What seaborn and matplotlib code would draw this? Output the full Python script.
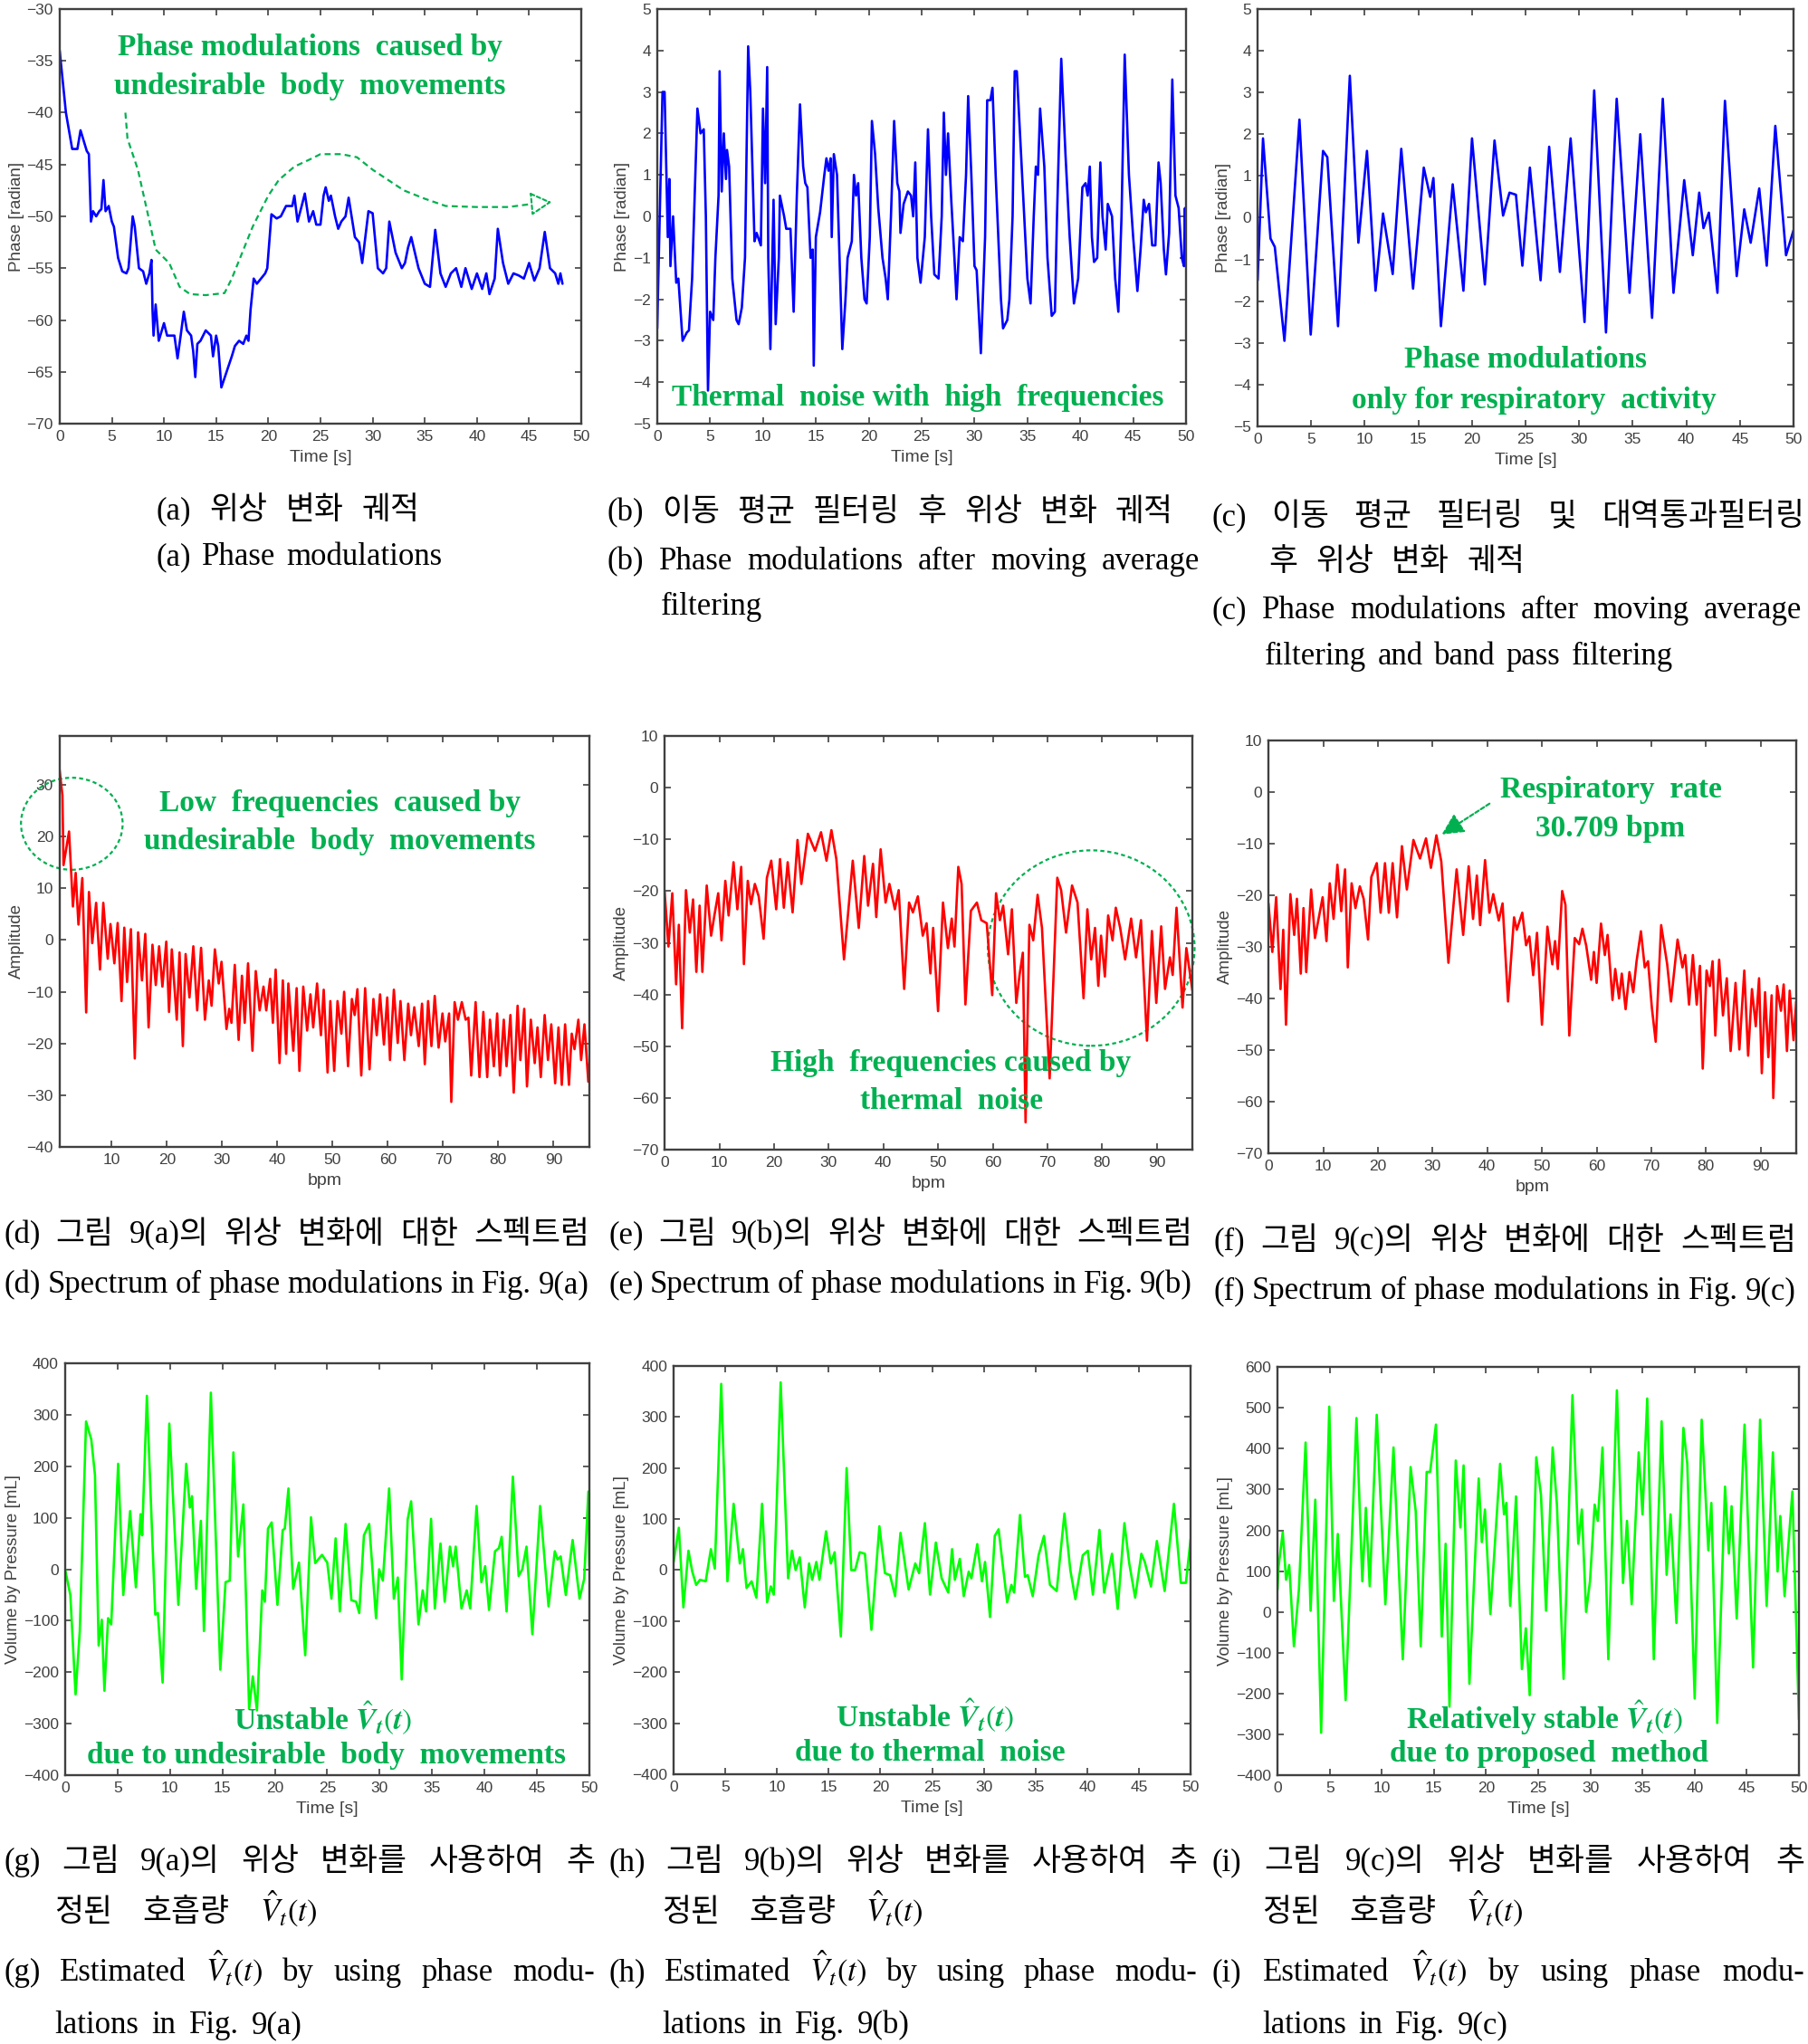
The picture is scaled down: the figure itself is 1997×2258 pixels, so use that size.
import matplotlib
matplotlib.use("Agg")
import matplotlib.pyplot as plt
from matplotlib.patches import Ellipse
import pandas as pd
import seaborn as sns

# ---- data: (x, value) pairs ---------------------------------------------
PHASE_A = [(0, -34.0), (0.6, -40.0), (1.2, -43.5), (1.7, -43.5), (2.0, -41.7), (2.6, -43.7), (2.8, -44.0),
           (3.0, -50.5), (3.2, -49.5), (3.5, -50.0), (3.8, -49.5), (4.0, -49.3), (4.2, -46.5), (4.4, -49.5),
           (4.7, -49.0), (5.0, -50.5), (5.2, -51.0), (5.6, -54.0), (6.0, -55.3), (6.4, -55.5), (6.6, -55.0),
           (7.0, -50.0), (7.2, -51.0), (7.6, -55.0), (8.0, -55.3), (8.3, -56.5), (8.6, -55.5), (8.8, -54.2),
           (8.9, -59.0), (9.0, -61.5), (9.2, -58.5), (9.5, -62.0), (9.8, -61.0), (10.0, -60.3), (10.3, -61.5),
           (11.0, -61.5), (11.3, -63.7), (11.6, -61.5), (11.9, -59.2), (12.2, -61.0), (12.6, -61.5),
           (12.8, -63.0), (13.0, -65.5), (13.2, -62.3), (13.5, -62.0), (14.0, -61.0), (14.5, -61.5),
           (14.7, -63.5), (15.0, -61.5), (15.2, -62.5), (15.5, -66.5), (16.0, -65.0), (16.5, -63.5),
           (16.8, -62.5), (17.2, -62.0), (17.6, -62.3), (17.9, -61.5), (18.1, -62.0), (18.3, -59.0),
           (18.6, -56.0), (18.9, -56.5), (19.3, -56.0), (19.7, -55.5), (19.9, -55.0), (20.3, -49.8),
           (20.8, -50.2), (21.2, -50.0), (21.7, -49.0), (22.3, -49.0), (22.5, -48.0), (22.8, -50.5),
           (23.2, -49.0), (23.5, -47.8), (23.9, -50.5), (24.3, -49.5), (24.6, -50.8), (25.0, -50.8),
           (25.3, -48.0), (25.5, -47.2), (25.8, -48.5), (26.0, -48.0), (26.4, -50.0), (26.7, -51.2),
           (27.0, -50.5), (27.4, -50.0), (27.7, -48.2), (28.3, -52.0), (28.7, -52.5), (29.0, -54.5),
           (29.3, -52.0), (29.6, -49.5), (30.0, -49.7), (30.5, -55.0), (31.0, -55.5), (31.3, -55.0),
           (31.6, -50.5), (32.2, -53.5), (32.8, -55.0), (33.1, -54.5), (33.4, -53.0), (33.7, -52.0),
           (34.0, -53.3), (34.4, -55.0), (35.0, -56.5), (35.5, -56.8), (36.0, -51.3), (36.5, -55.5),
           (37.0, -56.8), (37.5, -55.5), (38.0, -55.0), (38.5, -56.8), (38.9, -55.0), (39.5, -57.0),
           (40.0, -55.5), (40.5, -57.0), (40.9, -55.5), (41.2, -57.5), (41.7, -56.0), (42.0, -51.2),
           (42.5, -54.5), (43.0, -56.5), (43.5, -55.5), (44.0, -55.7), (44.5, -56.0), (45.0, -54.5),
           (45.5, -56.2), (46.0, -55.0), (46.5, -51.5), (47.0, -55.0), (47.5, -55.5), (47.8, -56.5),
           (48.0, -55.5), (48.2, -56.5)]

PHASE_B = [(0, -2.7), (0.5, 3.0), (0.7, 3.0), (1.0, -0.5), (1.15, 0.9), (1.25, -1.2), (1.5, 0.0), (1.8, -1.6),
           (2.0, -1.5), (2.4, -3.0), (2.8, -2.8), (3.0, -2.75), (3.3, -1.5), (3.6, 1.0), (3.8, 2.6),
           (4.1, 2.0), (4.4, 2.1), (4.6, 0.0), (4.8, -4.2), (5.0, -2.3), (5.3, -2.5), (5.5, -1.0), (5.8, 0.5),
           (5.9, 3.5), (6.1, 0.6), (6.3, 2.0), (6.5, 0.9), (6.6, 1.6), (6.8, 1.2), (7.1, -1.5), (7.5, -2.5),
           (7.7, -2.6), (8.0, -2.2), (8.3, -1.0), (8.6, 4.1), (8.8, 3.0), (9.2, -0.6), (9.4, -0.4),
           (9.8, -0.7), (10.0, 2.6), (10.2, 0.8), (10.4, 3.6), (10.5, -1.0), (10.7, -3.2), (11.0, 0.4),
           (11.2, -2.6), (11.5, -1.0), (11.6, 0.5), (12.0, 0.0), (12.2, -0.3), (12.6, -0.3), (12.9, -2.3),
           (13.2, 0.5), (13.5, 2.7), (13.8, 1.2), (14.0, 0.8), (14.2, 0.7), (14.5, -1.0), (14.7, -0.8),
           (14.8, -3.6), (15.0, -0.5), (15.4, 0.1), (15.8, 1.0), (16.0, 1.4), (16.2, 1.1), (16.4, 1.4),
           (16.5, -0.5), (16.7, 1.5), (17.0, 1.0), (17.3, -1.5), (17.5, -3.2), (17.8, -2.0), (18.0, -1.0),
           (18.4, -0.6), (18.6, 1.0), (18.8, 0.5), (19.0, 0.8), (19.3, -1.0), (19.6, -2.0), (19.8, -2.1),
           (20.1, -0.5), (20.3, 2.3), (20.6, 1.5), (20.9, 0.2), (21.3, -1.0), (21.6, -1.5), (21.8, -2.0),
           (22.1, 0.0), (22.4, 2.3), (22.7, 0.8), (22.9, 0.6), (23.0, -0.4), (23.3, 0.3), (23.7, 0.6),
           (24.0, 0.5), (24.2, 0.0), (24.4, 1.3), (24.6, -1.0), (24.9, -1.6), (25.3, -0.5), (25.6, 2.1),
           (25.9, 0.0), (26.2, -1.4), (26.6, -1.5), (26.9, 0.0), (27.1, 2.5), (27.3, 1.0), (27.5, 2.0),
           (27.8, 0.4), (28.1, -1.0), (28.3, -2.0), (28.6, -0.5), (28.9, -0.6), (29.2, 1.0), (29.4, 2.9),
           (29.7, 1.0), (30.0, -1.2), (30.2, -1.3), (30.6, -3.3), (31.0, -0.5), (31.2, 2.8), (31.5, 2.8),
           (31.7, 3.1), (32.0, 1.0), (32.5, -2.0), (32.7, -2.7), (33.1, -2.5), (33.3, -2.0), (33.6, 0.0),
           (33.8, 3.5), (34.0, 3.5), (34.5, 1.0), (35.0, -1.5), (35.3, -2.1), (35.6, 0.0), (35.8, 1.2),
           (36.0, 1.0), (36.2, 2.6), (36.6, 1.2), (36.9, -1.0), (37.3, -2.4), (37.6, -2.3), (37.8, 0.0),
           (38.2, 3.8), (38.6, 1.5), (39.0, -0.5), (39.4, -2.1), (39.8, -1.5), (40.2, 0.7), (40.5, 0.8),
           (40.7, 0.5), (40.9, 1.2), (41.1, -0.5), (41.3, -1.1), (41.6, -1.0), (41.9, 1.3), (42.1, 0.0),
           (42.4, -0.8), (42.6, 0.3), (43.0, 0.0), (43.3, -1.5), (43.6, -2.3), (43.9, 0.0), (44.2, 3.9),
           (44.6, 1.0), (45.0, -0.5), (45.4, -1.8), (45.7, -0.8), (46.0, 0.4), (46.2, 0.1), (46.5, 0.3),
           (46.8, -0.7), (47.1, -0.7), (47.4, 1.3), (47.6, 0.8), (47.9, -0.8), (48.1, -1.4), (48.4, -0.4),
           (48.7, 3.3), (49.0, 0.5), (49.3, 0.2), (49.6, -1.0), (49.8, -1.2), (49.9, 0.2), (50.0, -1.2)]

PHASE_C = [(0, -1.5), (0.5, 1.9), (1.2, -0.5), (1.6, -0.7), (2.5, -2.95), (3.9, 2.35), (4.95, -2.8),
           (6.1, 1.6), (6.5, 1.45), (7.5, -2.6), (8.6, 3.4), (9.4, -0.6), (10.2, 1.6), (11.0, -1.75),
           (11.7, 0.1), (12.6, -1.35), (13.4, 1.65), (14.5, -1.7), (15.5, 1.2), (16.1, 0.5), (16.4, 0.95),
           (17.1, -2.6), (18.2, 0.8), (19.2, -1.75), (20.0, 1.9), (21.2, -1.6), (22.1, 1.85), (22.9, 0.05),
           (23.5, 0.6), (24.1, 0.55), (24.7, -1.15), (25.4, 1.2), (26.4, -1.5), (27.2, 1.7), (28.2, -1.3),
           (29.2, 1.9), (30.5, -2.5), (31.4, 3.05), (32.5, -2.75), (33.5, 2.85), (34.7, -1.8), (35.7, 2.0),
           (36.8, -2.4), (37.8, 2.85), (38.8, -1.8), (39.8, 0.9), (40.6, -0.9), (41.2, 0.6), (41.6, -0.25),
           (42.1, 0.12), (42.9, -1.8), (43.6, 2.8), (44.7, -1.4), (45.4, 0.2), (46.0, -0.6), (46.8, 0.7),
           (47.5, -1.15), (48.3, 2.2), (49.3, -0.9), (50.0, -0.3)]

SPEC_D = [(0.5, 33.7), (1.1, 28.0), (1.3, 14.5), (2.3, 21.0), (3.0, 6.5), (3.5, 13.0), (4.0, 3.0), (4.7, 12.0),
          (5.4, -14.0), (5.9, 9.3), (6.5, -0.6), (7.2, 7.2), (7.9, -5.7), (8.5, 7.2), (9.3, -3.6), (9.8, 3.1),
          (10.5, -4.5), (11.1, 3.3), (11.8, -11.8), (12.3, 2.4), (12.8, -8.1), (13.5, 2.1), (14.2, -22.9),
          (14.8, 1.5), (15.5, -7.8), (16.1, 1.2), (16.7, -16.9), (17.4, -0.9), (18.0, -8.7), (18.6, -1.2),
          (19.2, -9.0), (19.9, -0.3), (20.4, -13.9), (20.9, -1.8), (21.8, -15.4), (22.3, -2.4), (22.9, -20.5),
          (23.4, -2.7), (24.1, -11.1), (24.8, -1.2), (25.5, -13.6), (26.2, -1.5), (26.9, -15.4), (27.6, -7.8),
          (28.1, -12.7), (28.7, -1.8), (29.4, -8.4), (29.9, -4.2), (30.8, -17.2), (31.3, -13.3), (31.7, -16.0),
          (32.3, -4.8), (33.0, -19.3), (33.6, -6.9), (34.1, -16.0), (34.7, -4.5), (35.5, -21.4), (36.1, -6.0),
          (36.8, -13.6), (37.5, -9.0), (38.0, -13.6), (38.7, -7.5), (39.2, -16.0), (39.7, -5.7), (40.4, -23.8),
          (41.0, -7.8), (41.6, -22.0), (42.0, -8.4), (42.9, -21.4), (43.5, -9.3), (44.0, -25.3), (44.7, -9.0),
          (45.4, -17.5), (46.0, -10.5), (46.5, -16.9), (47.2, -8.4), (47.9, -18.4), (48.4, -9.6), (49.1, -25.6),
          (49.6, -11.8), (50.3, -25.3), (50.9, -11.8), (51.6, -18.1), (52.1, -10.0), (52.8, -24.4), (53.5, -11.4),
          (54.0, -14.5), (54.5, -9.5), (55.2, -26.2), (55.9, -9.3), (56.7, -25.0), (57.4, -11.4), (58.0, -18.4),
          (58.6, -10.5), (59.3, -20.2), (59.9, -11.1), (60.4, -23.2), (61.1, -9.6), (61.8, -19.9), (62.3, -11.8),
          (63.0, -23.2), (63.7, -12.3), (64.2, -18.4), (64.8, -13.0), (65.6, -20.5), (66.2, -12.3), (66.7, -24.0),
          (67.3, -11.8), (67.9, -20.5), (68.5, -10.8), (69.2, -20.8), (69.9, -14.2), (70.4, -19.6), (71.1, -14.2),
          (71.5, -31.3), (72.1, -12.0), (72.7, -15.4), (73.4, -12.0), (74.1, -15.4), (74.6, -15.0), (75.1, -26.2),
          (75.9, -12.0), (76.6, -26.5), (77.3, -13.9), (78.0, -26.5), (78.5, -15.4), (79.2, -24.4), (79.8, -14.2),
          (80.3, -26.2), (81.0, -15.4), (81.5, -24.4), (82.2, -14.5), (82.8, -29.5), (83.5, -12.7), (84.0, -23.2),
          (84.7, -13.3), (85.2, -28.3), (85.9, -15.4), (86.6, -23.8), (87.1, -16.9), (87.7, -26.5), (88.4, -14.5),
          (89.0, -23.2), (89.6, -16.3), (90.3, -27.7), (90.9, -16.9), (91.5, -28.0), (92.1, -16.3), (92.8, -28.0),
          (93.3, -18.1), (93.8, -21.1), (94.5, -15.4), (95.0, -23.2), (95.6, -16.3), (96.3, -27.4), (96.8, -19.9)]

SPEC_E = [(0, -20.1), (0.7, -30.7), (1.4, -20.4), (2.1, -38.0), (2.6, -26.5), (3.2, -46.5), (3.9, -19.8),
          (4.6, -28.0), (5.2, -21.6), (5.8, -35.6), (6.4, -22.8), (6.9, -35.6), (7.7, -18.9), (8.5, -28.6),
          (9.1, -24.7), (9.8, -20.4), (10.4, -29.5), (11.1, -18.0), (11.7, -24.7), (12.6, -14.4), (13.3, -23.5),
          (14.0, -15.3), (14.5, -34.1), (15.2, -18.0), (15.8, -22.5), (16.5, -18.6), (17.2, -21.0), (18.1, -29.2),
          (18.7, -17.4), (19.5, -14.1), (20.4, -23.5), (21.1, -13.8), (21.8, -23.2), (22.5, -14.4), (23.4, -24.1),
          (24.3, -10.1), (25.0, -18.6), (26.2, -8.9), (27.5, -12.2), (28.6, -8.6), (29.6, -14.1), (30.5, -8.2),
          (31.4, -13.8), (32.8, -33.2), (34.4, -14.1), (35.5, -27.1), (36.5, -13.2), (37.2, -22.8), (38.1, -14.7),
          (38.7, -25.0), (39.5, -11.9), (40.4, -22.2), (41.1, -18.6), (42.1, -23.5), (42.8, -19.8), (43.8, -38.9),
          (44.7, -22.2), (45.4, -24.1), (46.3, -21.0), (47.2, -28.6), (47.9, -26.2), (48.6, -35.9), (49.1, -27.1),
          (50.0, -43.2), (50.9, -22.2), (51.8, -31.0), (52.5, -25.3), (53.0, -30.7), (53.7, -15.3), (54.3, -18.6),
          (55.0, -41.9), (56.0, -23.8), (57.1, -22.2), (57.9, -25.6), (58.9, -26.2), (59.9, -40.1), (60.6, -20.4),
          (61.3, -25.6), (61.9, -22.8), (62.8, -32.2), (63.5, -23.5), (64.3, -41.6), (64.9, -36.2), (65.5, -31.9),
          (66.0, -64.7), (66.7, -26.5), (67.4, -29.5), (68.2, -20.7), (69.0, -27.1), (70.4, -56.2), (71.8, -17.4),
          (72.5, -19.8), (73.4, -28.0), (74.5, -18.9), (75.5, -22.2), (76.6, -40.7), (77.3, -23.5), (78.0, -33.2),
          (78.7, -27.1), (79.3, -38.3), (79.8, -28.6), (80.5, -36.5), (81.1, -24.7), (81.9, -29.5), (82.5, -23.2),
          (83.3, -27.1), (84.2, -33.2), (85.3, -25.3), (86.2, -32.8), (87.1, -25.6), (88.2, -48.9), (89.1, -27.7),
          (89.9, -41.6), (90.8, -26.8), (91.5, -38.9), (92.4, -32.8), (92.9, -36.2), (93.6, -23.2), (94.7, -42.5),
          (95.4, -31.0), (96.5, -39.2)]

SPEC_F = [(0, -21.6), (0.7, -31.0), (1.4, -20.4), (2.2, -38.2), (2.7, -26.7), (3.2, -45.1), (4.0, -19.8),
          (4.7, -27.7), (5.2, -20.7), (5.9, -35.2), (6.4, -22.5), (6.9, -34.9), (7.8, -18.9), (8.5, -28.3),
          (9.2, -24.3), (9.9, -20.4), (10.6, -28.9), (11.2, -17.7), (11.9, -24.6), (12.6, -14.1), (13.3, -23.1),
          (14.0, -15.0), (14.5, -34.0), (15.2, -17.7), (15.9, -22.5), (16.7, -18.3), (17.4, -20.7), (18.2, -28.6),
          (18.8, -16.5), (19.8, -13.8), (20.5, -23.4), (21.3, -13.8), (22.0, -23.4), (22.7, -13.8), (23.5, -24.3),
          (24.4, -10.5), (25.3, -18.9), (26.5, -9.3), (27.7, -12.9), (28.8, -9.0), (29.7, -14.7), (30.7, -8.4),
          (31.6, -13.5), (32.9, -33.1), (34.4, -15.0), (35.6, -27.7), (36.6, -14.4), (37.4, -24.6), (38.1, -16.2),
          (38.7, -25.8), (39.6, -13.2), (40.4, -23.4), (41.1, -19.8), (42.1, -24.9), (42.8, -21.6), (43.8, -40.6),
          (44.9, -24.3), (45.4, -26.7), (46.4, -23.4), (47.1, -29.7), (47.7, -28.0), (48.4, -35.5), (49.1, -27.3),
          (50.0, -45.1), (51.0, -26.1), (51.9, -33.4), (52.4, -28.9), (52.9, -34.3), (53.7, -19.2), (54.3, -21.9),
          (55.0, -47.2), (56.0, -28.3), (56.8, -29.5), (57.4, -26.5), (58.1, -29.8), (59.0, -36.4), (59.5, -31.0),
          (60.0, -37.0), (60.8, -25.5), (61.5, -31.6), (62.0, -27.7), (62.9, -40.3), (63.4, -34.3), (64.1, -40.0),
          (64.6, -35.2), (65.3, -42.1), (66.0, -34.9), (66.7, -38.8), (67.3, -32.8), (68.1, -27.0), (68.8, -34.0),
          (69.4, -32.8), (70.1, -41.8), (70.8, -48.4), (71.8, -25.8), (72.9, -33.4), (73.6, -40.6), (74.8, -28.6),
          (75.7, -34.0), (76.2, -31.6), (76.9, -41.2), (77.6, -31.6), (78.3, -41.2), (78.9, -33.7), (79.4, -53.6),
          (80.1, -34.6), (80.7, -37.6), (81.2, -32.8), (81.7, -47.2), (82.4, -32.5), (83.1, -43.3), (83.8, -36.1),
          (84.5, -50.2), (85.4, -37.0), (86.1, -49.9), (87.0, -34.6), (87.7, -51.1), (88.4, -38.2), (89.1, -45.4),
          (89.7, -36.1), (90.2, -54.5), (90.8, -38.8), (91.4, -51.4), (92.0, -39.4), (92.3, -59.3), (93.0, -37.6),
          (93.7, -42.4), (94.2, -37.3), (94.8, -50.2), (95.3, -38.5), (96.0, -48.1), (96.5, -40.6)]

VOL_G = [(0, 0), (0.5, -50), (1.0, -243), (1.4, -120), (2.0, 287), (2.5, 252), (2.85, 183), (3.2, -148),
         (3.5, -98), (3.75, -236), (4.1, -95), (4.4, -107), (5.06, 205), (5.55, -50), (6.2, 113), (6.75, -35),
         (7.2, 107), (7.35, 66), (7.8, 337), (8.3, 69), (8.6, -88), (8.85, -85), (9.3, -220), (9.94, 283),
         (10.8, -69), (11.55, 205), (11.9, 120), (12.1, 142), (12.5, -38), (12.95, 94), (13.24, -120),
         (13.9, 343), (14.8, -195), (15.3, -25), (15.7, -22), (16.05, 227), (16.5, 25), (17.0, 126),
         (17.55, -271), (17.9, -208), (18.3, -274), (18.8, -41), (19.05, -63), (19.35, 79), (19.7, 91),
         (20.25, -69), (20.75, 76), (20.95, 79), (21.3, 157), (21.75, -38), (22.3, 13), (22.9, -167),
         (23.45, 101), (23.85, 12), (24.5, 28), (25.0, 13), (25.4, -57), (25.8, 60), (26.2, -82), (26.75, 88),
         (27.3, -60), (27.75, -63), (28.05, -85), (28.5, 66), (29.0, 88), (29.65, -95), (29.95, 0), (30.3, -22),
         (30.9, 157), (31.35, -57), (31.73, -16), (32.1, -214), (32.67, 97), (33.0, 132), (33.7, -107),
         (34.1, -41), (34.43, -82), (34.9, 98), (35.26, -76), (35.8, 50), (36.2, -63), (36.7, 44), (37.0, 6),
         (37.25, 44), (37.8, -76), (38.3, -41), (38.63, -76), (39.24, 123), (39.7, -25), (40.06, 6),
         (40.43, -79), (41.0, 35), (41.37, 41), (41.63, 63), (42.1, -82), (42.7, 180), (43.25, -13), (43.6, 0),
         (44.0, 44), (44.56, -126), (45.3, 123), (46.1, -72), (46.7, 35), (46.97, 19), (47.26, 25),
         (47.75, -50), (48.4, 57), (49.06, -57), (49.5, -19), (49.9, 151), (50.0, 6)]

VOL_H = [(0, 16), (0.5, 83), (0.94, -73), (1.43, 38), (1.8, -3), (2.18, -29), (2.55, -19), (3.1, -22),
         (3.6, 41), (3.98, 3), (4.6, 365), (5.2, -22), (5.8, 130), (6.4, 13), (6.7, 41), (7.05, -35),
         (7.54, -22), (8.0, -54), (8.55, 130), (9.04, -63), (9.4, -32), (9.68, -48), (10.35, 368), (11.07, -16),
         (11.44, 38), (11.8, 0), (12.2, 25), (12.68, -73), (13.1, 13), (13.4, -19), (13.8, 16), (14.1, -19),
         (14.74, 76), (15.2, 13), (15.57, 35), (16.17, -130), (16.73, 200), (17.18, 0), (17.55, 0), (18.0, 35),
         (18.5, 32), (19.13, -117), (19.9, 86), (20.44, -6), (20.93, -10), (21.42, -51), (21.94, 73),
         (22.73, -38), (23.37, 13), (23.74, -6), (24.3, 92), (24.8, -48), (25.36, 54), (25.92, -16),
         (26.56, -44), (26.93, 41), (27.2, -19), (27.68, 22), (28.06, -51), (28.54, -3), (28.8, -16),
         (29.37, 51), (29.82, -22), (30.12, 16), (30.6, -92), (31.06, 67), (31.43, 80), (32.26, -63),
         (32.67, -29), (32.93, -44), (33.5, 108), (33.98, -13), (34.25, -10), (34.73, -51), (35.3, 29),
         (35.82, 67), (36.4, -29), (37.05, -41), (37.8, 111), (38.37, 0), (38.86, -57), (39.57, 29),
         (40.06, 38), (40.55, -48), (41.19, 79), (41.64, -44), (42.4, 32), (42.95, -76), (43.6, 92),
         (44.07, 13), (44.64, -54), (45.24, 32), (45.57, 16), (46.17, -32), (46.74, 57), (47.49, -41),
         (48.39, 130), (49.06, -25), (49.55, -25), (50.0, 60)]

VOL_I = [(0, 55), (0.1, 111), (0.5, 195), (0.82, 79), (1.12, 115), (1.57, -84), (2.05, 55), (2.69, 415),
         (3.17, 3), (3.62, 275), (4.18, -296), (4.96, 503), (5.4, 27), (5.78, 191), (6.53, -216), (7.57, 475),
         (8.13, 75), (8.47, 255), (8.84, 63), (9.51, 483), (10.34, 19), (11.12, 403), (12.01, -116),
         (12.76, 355), (13.25, 247), (13.73, -84), (14.3, 343), (14.63, 343), (15.19, 459), (15.75, -60),
         (16.12, 167), (16.49, -232), (17.09, 371), (17.54, 207), (17.84, 359), (18.4, -176), (19.29, 327),
         (19.59, 171), (19.89, 251), (20.41, -5), (21.34, 363), (21.72, 239), (21.94, 267), (22.31, 15),
         (22.87, 283), (23.43, -140), (23.81, -40), (24.18, -204), (24.81, 379), (25.26, 287), (25.75, 3),
         (26.38, 403), (26.79, 263), (27.43, -164), (28.28, 531), (28.84, 167), (29.18, 251), (29.59, 0),
         (29.96, 75), (30.41, 263), (30.71, 223), (31.16, 403), (31.72, -116), (32.54, 543), (33.13, 71),
         (33.51, 223), (33.96, 19), (34.63, 391), (35.0, 239), (35.45, 523), (36.08, -116), (36.83, 467),
         (37.31, 91), (37.69, 239), (38.25, -27), (38.92, 451), (39.29, 363), (40.0, -212), (40.67, 471),
         (41.31, 151), (41.6, 267), (42.16, -272), (42.91, 307), (43.28, 143), (43.54, 259), (44.03, -16),
         (44.78, 459), (45.6, -136), (46.27, 471), (46.9, 15), (47.5, 391), (47.95, 99), (48.21, 235),
         (48.62, 39), (49.37, 295), (50.0, -264)]

# hand-drawn dashed guide in panel (a)
GUIDE_A = [(6.3, -40.0), (6.5, -42.5), (7.5, -45.5), (8.5, -50.0), (9.2, -53.2), (10.5, -54.5), (11.5, -56.8),
           (12.5, -57.5), (14.0, -57.6), (15.8, -57.4), (16.5, -56.0), (17.5, -53.5), (18.5, -51.0), (20.0, -48.0),
           (21.0, -46.5), (22.5, -45.2), (24.0, -44.5), (25.0, -44.0), (27.0, -44.0), (28.5, -44.3), (30.0, -45.5),
           (31.5, -46.5), (33.0, -47.5), (35.0, -48.3), (37.0, -49.0), (40.0, -49.1), (43.0, -49.1), (45.3, -48.8)]

# ---- style ---------------------------------------------------------------
W_PX, H_PX = 1997, 2258
BLUE, RED, LIME = "#0000ff", "#ff0000", "#00ff00"
NOTE = "#00b050"
AXIS_GREY = "#404040"
CAPTION_FONT = ["Liberation Serif", "Noto Sans CJK KR"]
CAPTION_SIZE = 25
NOTE_SIZE = 24

sns.set_theme(style="ticks")
plt.rcParams["font.family"] = ["Liberation Sans", "DejaVu Sans"]
plt.rcParams["mathtext.fontset"] = "stix"

fig = plt.figure(figsize=(W_PX / 100, H_PX / 100), dpi=100)
renderer = fig.canvas.get_renderer()


def draw_trace(ax, pairs, color):
    df = pd.DataFrame(pairs, columns=["x", "y"])
    sns.lineplot(data=df, x="x", y="y", ax=ax, color=color, linewidth=1.9,
                 estimator=None, sort=False)


def style_axes(ax, xlim, xticks, ylim, yticks, xlabel, ylabel):
    ax.set_xlim(*xlim)
    ax.set_xticks(xticks)
    ax.set_ylim(*ylim)
    ax.set_yticks(yticks)
    ax.set_xlabel(xlabel, fontsize=14, color=AXIS_GREY, labelpad=5)
    ax.set_ylabel(ylabel, fontsize=13.5, color=AXIS_GREY, labelpad=2)
    ax.tick_params(direction="in", top=True, right=True, length=5, width=1.2,
                   labelsize=12.5, labelcolor=AXIS_GREY, color=AXIS_GREY, pad=5)
    for sp in ax.spines.values():
        sp.set_visible(True)
        sp.set_color(AXIS_GREY)
        sp.set_linewidth(1.7)


def note(ax, x, y, s, size=NOTE_SIZE):
    ax.text(x, y, s, color=NOTE, fontsize=size, fontweight="bold",
            family="Liberation Serif", ha="center", va="center")


def place_words(words, x0, y, x1=None, gap=14, size=CAPTION_SIZE):
    # y is the baseline in pixels from the top; words spread to x1 when given
    texts = [fig.text(0, 1 - y / H_PX, w, fontsize=size, family=CAPTION_FONT,
                      ha="left", va="baseline", color="black") for w in words]
    widths = [t.get_window_extent(renderer).width for t in texts]
    if x1 is not None and len(words) > 1:
        gap = (x1 - x0 - sum(widths)) / (len(words) - 1)
    x = x0
    for t, w in zip(texts, widths):
        t.set_x(x / W_PX)
        x += w + gap


t_ticks = list(range(0, 51, 5))

# ---- row 1: phase ---------------------------------------------------------
ax_a = fig.add_axes([0.033, 0.7927, 0.2885, 0.2029])
draw_trace(ax_a, PHASE_A, BLUE)
gdf = pd.DataFrame(GUIDE_A, columns=["x", "y"])
ax_a.plot(gdf["x"], gdf["y"], color=NOTE, lw=1.6, ls=(0, (3, 2)))
ax_a.annotate("", xy=(47.4, -48.6), xytext=(45.2, -48.8),
              arrowprops=dict(arrowstyle="-|>,head_length=0.9,head_width=0.5", fc="white",
                              ec=NOTE, lw=1.5, ls=(0, (2, 1.5)), mutation_scale=16))
style_axes(ax_a, (0, 50), t_ticks, (-70, -30), list(range(-70, -29, 5)), "Time [s]", "Phase [radian]")
note(ax_a, 24.0, -33.7, "Phase modulations  caused by")
note(ax_a, 24.0, -37.5, "undesirable  body  movements")

ax_b = fig.add_axes([0.3635, 0.7927, 0.2925, 0.2029])
draw_trace(ax_b, PHASE_B, BLUE)
style_axes(ax_b, (0, 50), t_ticks, (-5, 5), list(range(-5, 6)), "Time [s]", "Phase [radian]")
note(ax_b, 24.6, -4.38, "Thermal  noise with  high  frequencies")

ax_c = fig.add_axes([0.6956, 0.7914, 0.2964, 0.2042])
draw_trace(ax_c, PHASE_C, BLUE)
style_axes(ax_c, (0, 50), t_ticks, (-5, 5), list(range(-5, 6)), "Time [s]", "Phase [radian]")
note(ax_c, 25.0, -3.41, "Phase modulations")
note(ax_c, 25.8, -4.39, "only for respiratory  activity")

# ---- row 2: spectra -------------------------------------------------------
ax_d = fig.add_axes([0.033, 0.4389, 0.293, 0.2011])
draw_trace(ax_d, SPEC_D, RED)
style_axes(ax_d, (0.6, 96.5), list(range(10, 91, 10)), (-40, 39.5), list(range(-40, 31, 10)),
           "bpm", "Amplitude")
ax_d.add_patch(Ellipse((2.8, 22.5), 18.4, 17.8, fill=False, ec=NOTE, lw=1.6,
                       ls=(0, (2, 1.5)), clip_on=False))
note(ax_d, 51.3, 26.5, "Low  frequencies  caused by")
note(ax_d, 51.3, 19.0, "undesirable  body  movements")

ax_e = fig.add_axes([0.3676, 0.4375, 0.2919, 0.2024])
draw_trace(ax_e, SPEC_E, RED)
style_axes(ax_e, (0, 96.5), list(range(0, 91, 10)), (-70, 10), list(range(-70, 11, 10)),
           "bpm", "Amplitude")
ax_e.add_patch(Ellipse((78.0, -31.0), 37.8, 37.8, fill=False, ec=NOTE, lw=1.6,
                       ls=(0, (2, 1.5)), clip_on=False))
note(ax_e, 52.3, -53.2, "High  frequencies caused by")
note(ax_e, 52.5, -60.7, "thermal  noise")

ax_f = fig.add_axes([0.7016, 0.4358, 0.2919, 0.2020])
draw_trace(ax_f, SPEC_F, RED)
style_axes(ax_f, (0, 96.5), list(range(0, 91, 10)), (-70, 10), list(range(-70, 11, 10)),
           "bpm", "Amplitude")
ax_f.annotate("", xy=(31.3, -8.5), xytext=(40.8, -2.0),
              arrowprops=dict(arrowstyle="-|>,head_length=0.8,head_width=0.4", fc=NOTE,
                              ec=NOTE, lw=1.6, ls=(0, (2, 1.2)), mutation_scale=18))
note(ax_f, 62.7, 0.36, "Respiratory  rate")
note(ax_f, 62.5, -7.2, "30.709 bpm")

# ---- row 3: volume --------------------------------------------------------
V_HAT = r"$\hat{\mathbfit{V}}_{\mathbfit{t}}(\mathbfit{t})$"

ax_g = fig.add_axes([0.036, 0.1315, 0.290, 0.2015])
draw_trace(ax_g, VOL_G, LIME)
style_axes(ax_g, (0, 50), t_ticks, (-400, 400), list(range(-400, 401, 100)),
           "Time [s]", "Volume by Pressure [mL]")
note(ax_g, 24.6, -290, "Unstable " + V_HAT)
note(ax_g, 24.9, -362, "due to undesirable  body  movements")

ax_h = fig.add_axes([0.3726, 0.1320, 0.2859, 0.1997])
draw_trace(ax_h, VOL_H, LIME)
style_axes(ax_h, (0, 50), t_ticks, (-400, 400), list(range(-400, 401, 100)),
           "Time [s]", "Volume by Pressure [mL]")
note(ax_h, 24.3, -286, "Unstable " + V_HAT)
note(ax_h, 24.8, -359, "due to thermal  noise")

ax_i = fig.add_axes([0.7066, 0.1315, 0.2884, 0.1997])
draw_trace(ax_i, VOL_I, LIME)
style_axes(ax_i, (0, 50), t_ticks, (-400, 600), list(range(-400, 601, 100)),
           "Time [s]", "Volume by Pressure [mL]")
note(ax_i, 25.6, -260, "Relatively stable " + V_HAT)
note(ax_i, 26.0, -348, "due to proposed  method")

# ---- captions ---------------------------------------------------------------
V_CAP = r"$\hat{V}_t(t)$"

place_words(["(a)", "위상", "변화", "궤적"], 173, 573, x1=464)
place_words(["(a)", "Phase", "modulations"], 173, 624, x1=488)
place_words(["(b)", "이동", "평균", "필터링", "후", "위상", "변화", "궤적"], 671, 575, x1=1296)
place_words(["(b)", "Phase", "modulations", "after", "moving", "average"], 671, 629, x1=1325)
place_words(["filtering"], 730, 679)
place_words(["(c)", "이동", "평균", "필터링", "및", "대역통과필터링"], 1339, 580, x1=1993)
place_words(["후", "위상", "변화", "궤적"], 1401, 630, x1=1685)
place_words(["(c)", "Phase", "modulations", "after", "moving", "average"], 1339, 683, x1=1990)
place_words(["filtering", "and", "band", "pass", "filtering"], 1397, 734, x1=1848)

for lab, fig_ref, x0, x1, dy in [("(d)", "9(a)", 4, 651, 0), ("(e)", "9(b)", 672, 1317, 0),
                                 ("(f)", "9(c)", 1340, 1984, 7)]:
    place_words([lab, "그림", fig_ref + "의", "위상", "변화에", "대한", "스펙트럼"], x0, 1373 + dy, x1=x1)
    place_words([lab, "Spectrum", "of", "phase", "modulations", "in", "Fig.", fig_ref],
                x0, 1428 + dy, x1=x1)

for lab, fig_ref, x0, xt, x1, xk, xl in [("(g)", "9(a)", 4, 60, 657, 350, 334),
                                        ("(h)", "9(b)", 672, 731, 1322, 1019, 1005),
                                        ("(i)", "9(c)", 1339, 1394, 1993, 1682, 1666)]:
    place_words([lab, "그림", fig_ref + "의", "위상", "변화를", "사용하여", "추"], x0, 2066, x1=x1)
    place_words(["정된", "호흡량", V_CAP], xt, 2122, x1=xk)
    place_words([lab, "Estimated", V_CAP, "by", "using", "phase", "modu-"], x0, 2188, x1=x1)
    place_words(["lations", "in", "Fig.", fig_ref], xt, 2246, x1=xl)

fig.savefig("out.png", dpi=100)
plt.close(fig)
